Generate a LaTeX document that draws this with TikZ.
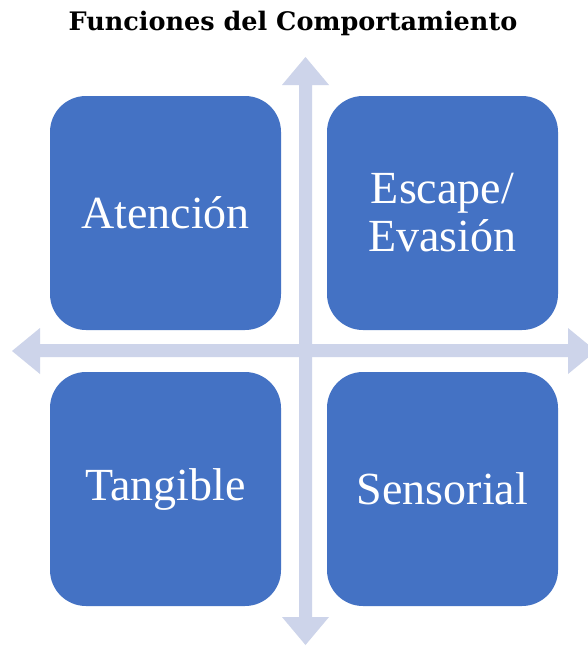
\documentclass[tikz,border=0pt]{standalone}
\usepackage{fontspec}
\setmainfont{Liberation Serif}
\newfontfamily\titlefont{DejaVu Serif}
\definecolor{boxblue}{HTML}{4472C4}
\definecolor{arrowgray}{HTML}{CDD4EA}
\begin{document}
\begin{tikzpicture}[x=1pt,y=-1pt,
  quad/.style={rectangle, rounded corners=36pt, fill=boxblue, draw=none,
    minimum width=231pt, minimum height=234pt, inner sep=0pt,
    text=white, align=center, font=\fontsize{46}{48}\selectfont},
  axis/.style={fill=arrowgray, draw=none}]
\clip (0,0) rectangle (588,646);
\fill[white] (0,0) rectangle (588,646);
% axes
\fill[axis] (299,85) -- (282,85) -- (305.5,57) -- (329,85) -- (312,85)
  -- (312,617) -- (329,617) -- (305.5,645) -- (282,617) -- (299,617) -- cycle;
\fill[axis] (40,344) -- (40,328) -- (12,351) -- (40,374) -- (40,357)
  -- (568,357) -- (568,374) -- (596,351) -- (568,328) -- (568,344) -- cycle;
% boxes
\node[quad] (atencion) at (165.5,213) {Atención};
\node[quad] (escape) at (442.5,213) {Escape/\\Evasión};
\node[quad] (tangible) at (165.5,489) {Tangible};
\node[quad] (sensorial) at (442.5,489) {Sensorial};
% title
\node[font=\titlefont\bfseries\fontsize{25.5}{30}\selectfont] (title) at (293,23) {Funciones del Comportamiento};
\end{tikzpicture}
\end{document}
